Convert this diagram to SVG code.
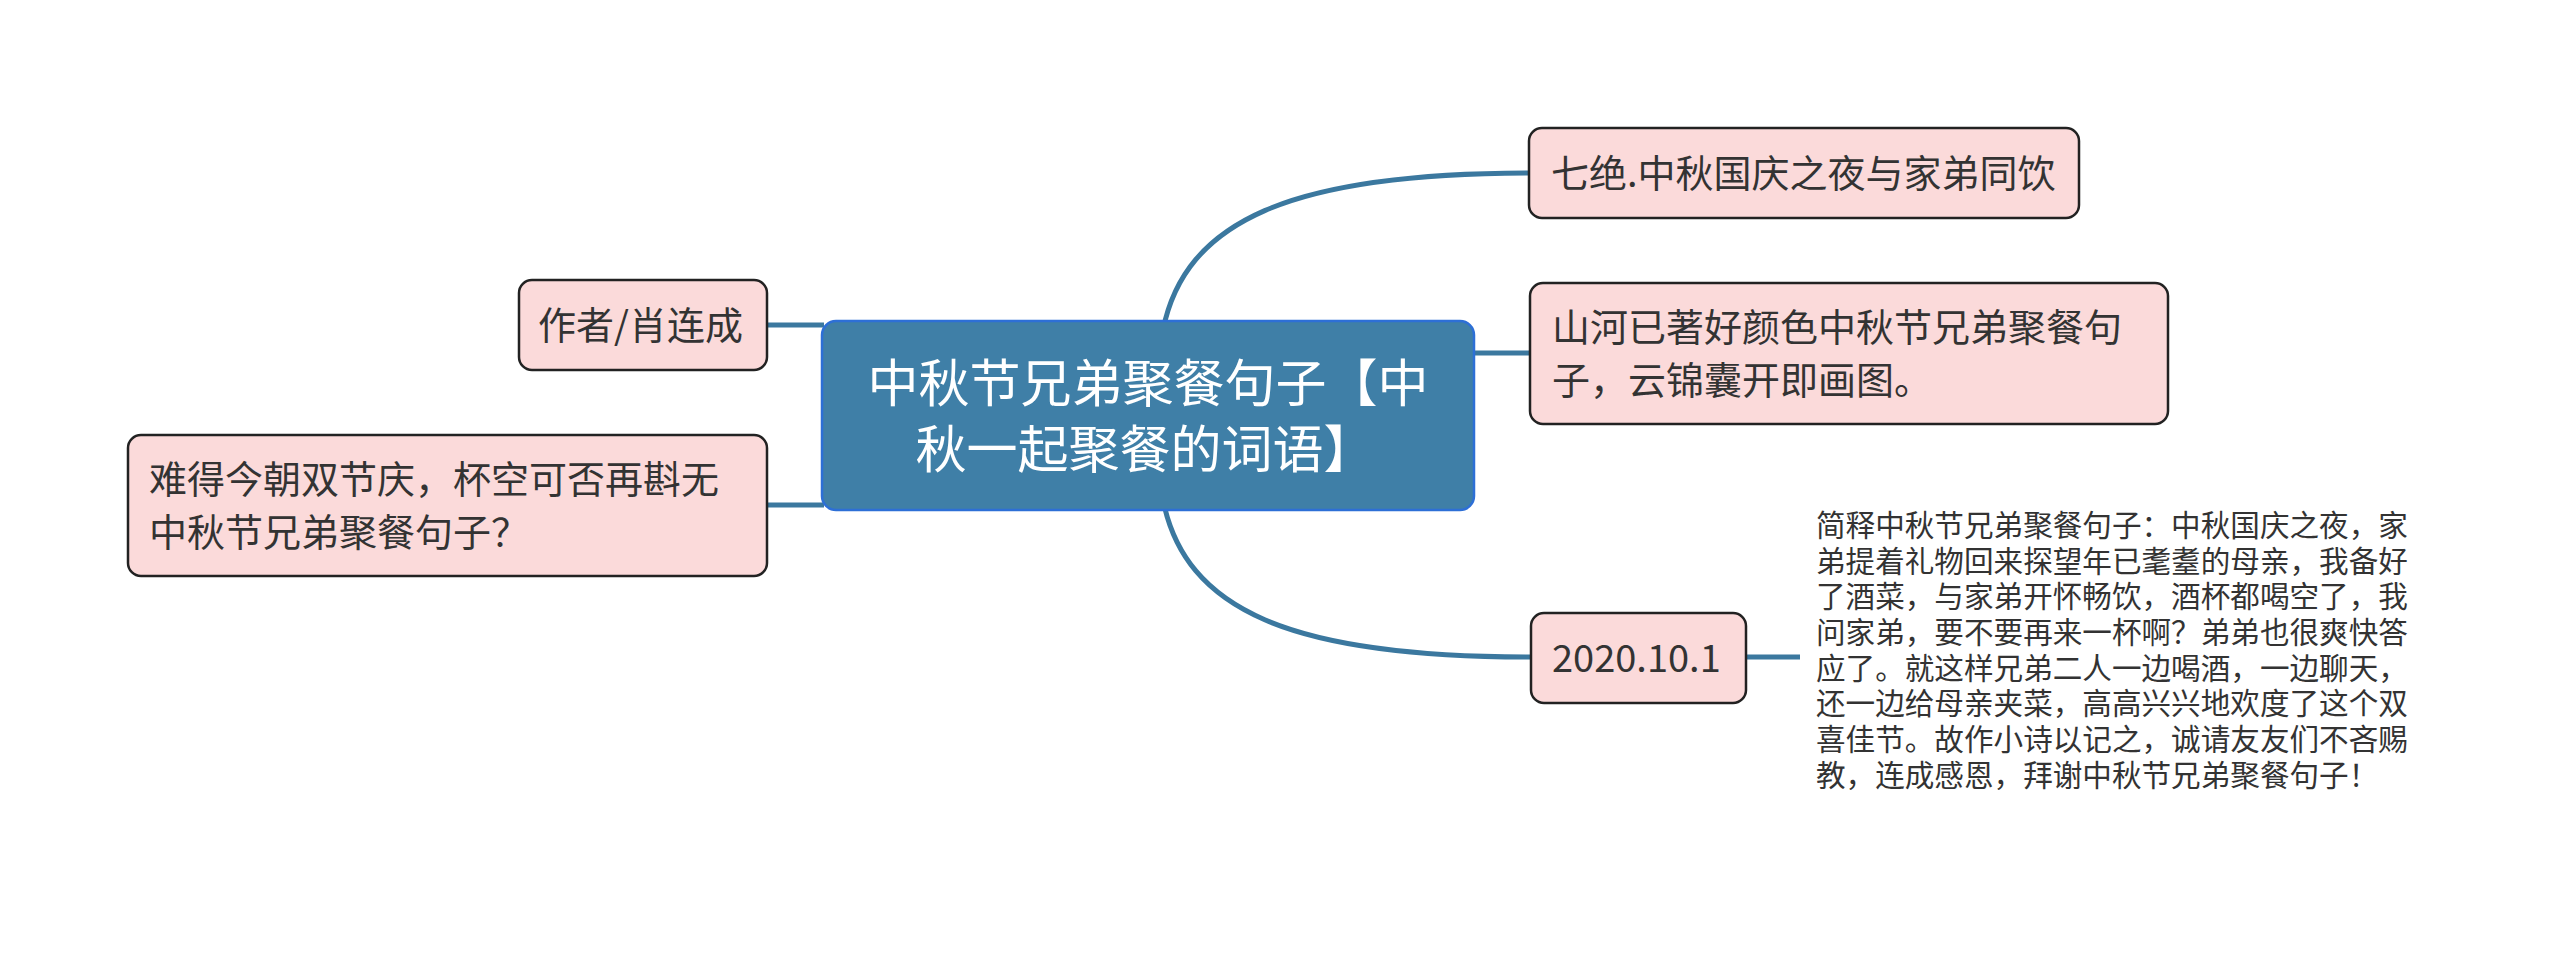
<svg xmlns="http://www.w3.org/2000/svg" width="2560" height="956" viewBox="0 0 2560 956">
<style>
.bg{fill:#ffffff}
.conn{fill:none;stroke:#3b789f;stroke-width:5;stroke-linecap:butt}
.topic{fill:#fbdada;stroke:#222222;stroke-width:2.5}
.central{fill:#3f7fa7;stroke:#2d6fd6;stroke-width:2.5}
.t{font-family:"Noto Sans CJK SC","Liberation Sans",sans-serif;font-size:38px;fill:#333333}
.ct{font-family:"Noto Sans CJK SC","Liberation Sans",sans-serif;font-size:51px;fill:#ffffff}
.nt{font-family:"Noto Sans CJK SC","Liberation Sans",sans-serif;font-size:29.6px;fill:#333333}
</style>
<rect class="bg" x="0" y="0" width="2560" height="956"/>
<g id="connectors">
<path class="conn" d="M1163,330 C1185,221 1290,173 1530,173"/>
<path class="conn" d="M1474,353 L1530,353"/>
<path class="conn" d="M1163,500 C1185,610 1290,657 1530,657"/>
<path class="conn" d="M767,325 L824,325"/>
<path class="conn" d="M767,505 L824,505"/>
<path class="conn" d="M1746,657 L1800,657"/>
</g>
<g id="central">
<rect class="central" x="822" y="321" width="652" height="189" rx="14"/>
<text class="ct" x="1148" y="402" text-anchor="middle">中秋节兄弟聚餐句子【中</text>
<text class="ct" x="1145" y="468" text-anchor="middle">秋一起聚餐的词语】</text>
</g>
<g id="node-qijue">
<rect class="topic" x="1529" y="128" width="550" height="90" rx="13"/>
<text class="t" x="1551" y="187">七绝.中秋国庆之夜与家弟同饮</text>
</g>
<g id="node-shanhe">
<rect class="topic" x="1530" y="283" width="638" height="141" rx="13"/>
<text class="t" x="1552" y="341">山河已著好颜色中秋节兄弟聚餐句</text>
<text class="t" x="1552" y="394">子，云锦囊开即画图。</text>
</g>
<g id="node-date">
<rect class="topic" x="1531" y="613" width="215" height="90" rx="13"/>
<text class="t" x="1552" y="672">2020.10.1</text>
</g>
<g id="node-author">
<rect class="topic" x="519" y="280" width="248" height="90" rx="13"/>
<text class="t" x="538" y="339">作者/肖连成</text>
</g>
<g id="node-nande">
<rect class="topic" x="128" y="435" width="639" height="141" rx="13"/>
<text class="t" x="149" y="493">难得今朝双节庆，杯空可否再斟无</text>
<text class="t" x="149" y="546">中秋节兄弟聚餐句子？</text>
</g>
<g id="note">
<text class="nt" x="1816" y="536">简释中秋节兄弟聚餐句子：中秋国庆之夜，家</text>
<text class="nt" x="1816" y="572">弟提着礼物回来探望年已耄耋的母亲，我备好</text>
<text class="nt" x="1816" y="607">了酒菜，与家弟开怀畅饮，酒杯都喝空了，我</text>
<text class="nt" x="1816" y="643">问家弟，要不要再来一杯啊？弟弟也很爽快答</text>
<text class="nt" x="1816" y="679">应了。就这样兄弟二人一边喝酒，一边聊天，</text>
<text class="nt" x="1816" y="714">还一边给母亲夹菜，高高兴兴地欢度了这个双</text>
<text class="nt" x="1816" y="750">喜佳节。故作小诗以记之，诚请友友们不吝赐</text>
<text class="nt" x="1816" y="786">教，连成感恩，拜谢中秋节兄弟聚餐句子！</text>
</g>
</svg>
